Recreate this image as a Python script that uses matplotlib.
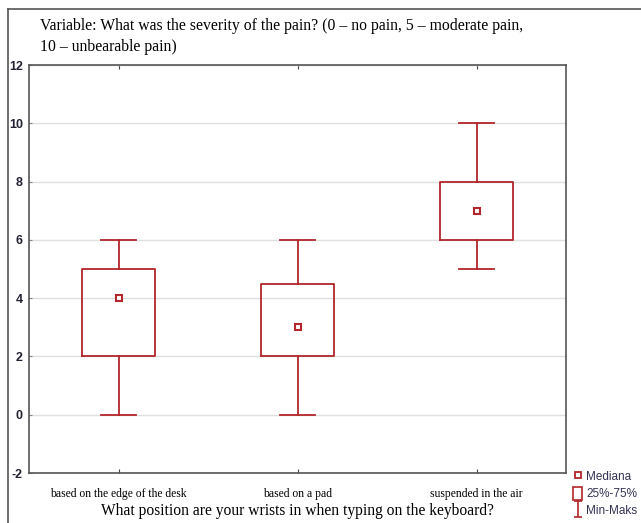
import matplotlib
matplotlib.use("Agg")
import matplotlib.pyplot as plt
from matplotlib.lines import Line2D
from matplotlib.patches import Rectangle
from matplotlib.path import Path

# data
categories = ["based on the edge of the desk", "based on a pad", "suspended in the air"]
mins = [0, 0, 5]
q1s = [2, 2, 6]
medians = [4, 3, 7]
q3s = [5, 4.5, 8]
maxs = [6, 6, 10]
yticks = [-2, 0, 2, 4, 6, 8, 10, 12]

red = "#b3262b"
serif = ["Liberation Serif", "DejaVu Serif"]
sans = ["Liberation Sans", "DejaVu Sans"]
plt.rcParams["axes.unicode_minus"] = False

fig = plt.figure(figsize=(6.41, 5.23), dpi=100)
ax = fig.add_axes([29 / 641, 50 / 523, 537 / 641, 408 / 523])

stats = []
for lab, lo, a, m, b, hi in zip(categories, mins, q1s, medians, q3s, maxs):
    stats.append(dict(label=lab, whislo=lo, q1=a, med=m, q3=b, whishi=hi, fliers=[]))

pos = list(range(1, len(categories) + 1))
ax.bxp(stats, positions=pos, widths=0.41, capwidths=0.2, showfliers=False,
       boxprops=dict(color=red, linewidth=1.3),
       whiskerprops=dict(color=red, linewidth=1.3),
       capprops=dict(color=red, linewidth=1.3),
       medianprops=dict(visible=False))
ax.plot(pos, medians, linestyle="none", marker="s", markersize=5,
        markerfacecolor="white", markeredgecolor=red, markeredgewidth=1.5)

ax.set_xlim(0.5, 3.5)
ax.set_ylim(-2, 12)
ax.set_yticks(yticks)
ax.set_xticks(pos)
ax.set_xticklabels(categories, fontfamily=serif, fontsize=8.4)
ax.yaxis.grid(True, color="#e0e0e0", linewidth=1)
ax.set_axisbelow(True)
ax.tick_params(axis="x", direction="in", length=3, top=True, pad=11, color="#444444")
ax.tick_params(axis="y", direction="in", length=2, pad=4.5, labelsize=9, color="#888888")
for t in ax.get_yticklabels():
    t.set_fontfamily(sans)
    t.set_fontweight("bold")
    t.set_color("#222233")
for s in ax.spines.values():
    s.set_color("#555555")
    s.set_linewidth(1.2)

ax.set_xlabel("What position are your wrists in when typing on the keyboard?",
              fontfamily=serif, fontsize=11.2, labelpad=2)

fig.text(40 / 641, 1 - 26 / 523,
         "Variable: What was the severity of the pain? (0 \u2013 no pain, 5 \u2013 moderate pain,",
         fontfamily=serif, fontsize=11.3, va="center")
fig.text(40 / 641, 1 - 47 / 523, "10 \u2013 unbearable pain)",
         fontfamily=serif, fontsize=11.3, va="center")

# outer frame (top and left edges visible)
fig.add_artist(Line2D([7.5 / 641, 7.5 / 641], [0, 1 - 9 / 523], transform=fig.transFigure,
                      color="#555555", linewidth=1.2))
fig.add_artist(Line2D([7.5 / 641, 1], [1 - 9 / 523, 1 - 9 / 523], transform=fig.transFigure,
                      color="#555555", linewidth=1.2))

# legend
ibeam = Path([(-0.5, 1), (0.5, 1), (0, 1), (0, -1), (-0.5, -1), (0.5, -1)],
             [Path.MOVETO, Path.LINETO, Path.MOVETO, Path.LINETO, Path.MOVETO, Path.LINETO])
handles = [
    Line2D([], [], linestyle="none", marker="s", markersize=4.5, markerfacecolor="white",
           markeredgecolor=red, markeredgewidth=1.3),
    Rectangle((0, 0), 1, 1, facecolor="white", edgecolor=red, linewidth=1.2),
    Line2D([], [], linestyle="none", marker=ibeam, markersize=12, markerfacecolor="none",
           markeredgecolor=red, markeredgewidth=1.2),
]
leg = fig.legend(handles, ["Mediana", "25%-75%", "Min-Maks"], loc="upper left",
                 bbox_to_anchor=(573 / 641, 1 - 470 / 523), frameon=False,
                 prop=dict(family=sans, size=8.5), handlelength=0.8, handleheight=1.3,
                 handletextpad=0.3, labelspacing=0.3, borderaxespad=0, borderpad=0)
for t in leg.get_texts():
    t.set_color("#333355")

fig.savefig("out.png", dpi=100)
